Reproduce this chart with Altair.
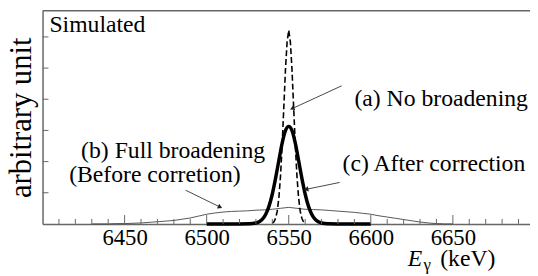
import altair as alt
import pandas as pd

# ---------------- data ----------------
# (b) Full broadening (before correction) - thin line
bg_E = [6430, 6435, 6440, 6445, 6450, 6455, 6460, 6465, 6470, 6475, 6480, 6485,
        6490, 6495, 6500, 6505, 6510, 6515, 6520, 6525, 6530, 6535, 6540, 6545,
        6550, 6555, 6560, 6565, 6570, 6575, 6580, 6585, 6590, 6595, 6600, 6605,
        6610, 6615, 6620, 6625, 6630, 6635, 6640, 6645, 6650]
bg_v = [0.0, 0.0, 0.0, 0.01, 0.01, 0.02, 0.03, 0.05, 0.07, 0.09, 0.11, 0.15,
        0.19, 0.25, 0.31, 0.35, 0.38, 0.40, 0.41, 0.42, 0.44, 0.45, 0.47, 0.50,
        0.53, 0.50, 0.47, 0.46, 0.45, 0.43, 0.41, 0.39, 0.37, 0.34, 0.31, 0.26,
        0.22, 0.18, 0.14, 0.10, 0.06, 0.03, 0.01, 0.0, 0.0]

# (a) No broadening - dashed
nb_E = [6540, 6541, 6542, 6543, 6544, 6545, 6546, 6547, 6548, 6549, 6550,
        6551, 6552, 6553, 6554, 6555, 6556, 6557, 6558, 6559, 6560]
nb_v = [0.02, 0.07, 0.18, 0.41, 0.84, 1.54, 2.54, 3.74, 4.94, 5.84, 6.22,
        5.84, 4.94, 3.74, 2.54, 1.54, 0.84, 0.41, 0.18, 0.07, 0.02]

# (c) After correction - thick line
ac_E = [6500, 6510, 6520, 6526, 6528, 6530, 6532, 6534, 6536, 6538, 6540,
        6542, 6544, 6546, 6548, 6550, 6552, 6554, 6556, 6558, 6560, 6562,
        6564, 6566, 6568, 6570, 6574, 6580, 6590, 6600]
ac_v = [0.0, 0.0, 0.0, 0.005, 0.01, 0.03, 0.07, 0.15, 0.31, 0.57, 0.96,
        1.47, 2.04, 2.59, 2.99, 3.13, 2.99, 2.59, 2.04, 1.47, 0.96, 0.57,
        0.31, 0.15, 0.07, 0.03, 0.005, 0.0, 0.0, 0.0]

x_major = [6450, 6500, 6550, 6600, 6650]
x_minor = [6410, 6420, 6430, 6440, 6460, 6470, 6480, 6490, 6510, 6520, 6530,
           6540, 6560, 6570, 6580, 6590, 6610, 6620, 6630, 6640, 6660, 6670,
           6680, 6690]
y_ticks = [1, 2, 3, 4, 5, 6]

notes_text = ["Simulated", "(a) No broadening", "(b) Full broadening",
              "(Before corretion)", "(c) After correction"]
notes_E = [6404.2, 6590, 6423.5, 6416.2, 6582.8]
notes_v = [6.17, 3.77, 2.12, 1.36, 1.71]

arrow_E1 = [6582.2, 6487.2, 6581.0]
arrow_v1 = [4.43, 1.08, 1.33]
arrow_E2 = [6552.1, 6508.2, 6560.6]
arrow_v2 = [3.70, 0.54, 1.11]
arrow_angle = [245, 116, 258]

# ---------------- chart ----------------
FONT = "Liberation Serif"
GRAY = "#666666"
W, H = 494, 216

xscale = alt.Scale(domain=[6400, 6697], nice=False, zero=False)
yscale = alt.Scale(domain=[0, 6.84], nice=False, zero=True)

xaxis = alt.Axis(values=x_major, ticks=False, grid=False, title=None,
                 labelFont=FONT, labelFontSize=23, labelColor="black",
                 labelPadding=3, domainColor=GRAY, domainWidth=1.5,
                 labelFlush=False, format="d")
yaxis = alt.Axis(labels=False, ticks=False, grid=False, title="arbitrary unit",
                 titleFont=FONT, titleFontSize=31, titleFontWeight="normal",
                 titleColor="black", titlePadding=5, domainColor=GRAY,
                 domainWidth=1.5)

X = alt.X("E:Q", scale=xscale, axis=xaxis)
Y = alt.Y("v:Q", scale=yscale, axis=yaxis)

bg_df = pd.DataFrame({"E": bg_E, "v": bg_v})
nb_df = pd.DataFrame({"E": nb_E, "v": nb_v})
ac_df = pd.DataFrame({"E": ac_E, "v": ac_v})

bg_line = alt.Chart(bg_df).mark_line(color="#444444", strokeWidth=0.9).encode(x=X, y=Y)
nb_line = alt.Chart(nb_df).mark_line(color="black", strokeWidth=1.6,
                                     strokeDash=[6, 3]).encode(x=X, y=Y)
ac_line = alt.Chart(ac_df).mark_line(color="black", strokeWidth=3.5,
                                     interpolate="monotone").encode(x=X, y=Y)

maj_df = pd.DataFrame({"E": x_major})
min_df = pd.DataFrame({"E": x_minor})
maj_ticks = alt.Chart(maj_df).mark_rule(color=GRAY, strokeWidth=1).encode(
    x=X, y=alt.value(H), y2=alt.value(H - 9))
min_ticks = alt.Chart(min_df).mark_rule(color=GRAY, strokeWidth=1).encode(
    x=X, y=alt.value(H), y2=alt.value(H - 5))
yt_df = pd.DataFrame({"v": y_ticks})
y_tick_rules = alt.Chart(yt_df).mark_rule(color=GRAY, strokeWidth=1).encode(
    y=Y, x=alt.value(0), x2=alt.value(6))

top_frame = alt.Chart(pd.DataFrame({"v": [6.84]})).mark_rule(
    color=GRAY, strokeWidth=1.5).encode(y=Y, x=alt.value(0), x2=alt.value(W))

notes_df = pd.DataFrame({"E": notes_E, "v": notes_v, "t": notes_text})
notes = alt.Chart(notes_df).mark_text(font=FONT, fontSize=24, align="left",
                                      baseline="alphabetic", color="black").encode(
    x=X, y=Y, text="t:N")

arr_df = pd.DataFrame({"E": arrow_E1, "v": arrow_v1, "E2": arrow_E2,
                       "v2": arrow_v2, "a": arrow_angle})
arr_lines = alt.Chart(arr_df).mark_rule(color="#333333", strokeWidth=0.9).encode(
    x=X, y=Y, x2="E2:Q", y2="v2:Q")
arr_heads = alt.Chart(arr_df).mark_point(shape="triangle-up", filled=True,
                                         color="#222222", size=28, opacity=1).encode(
    x=alt.X("E2:Q", scale=xscale, axis=xaxis),
    y=alt.Y("v2:Q", scale=yscale, axis=yaxis),
    angle=alt.Angle("a:Q", scale=None))

t_E = alt.Chart(pd.DataFrame({"t": ["E"]})).mark_text(
    font=FONT, fontSize=24, fontStyle="italic", align="left",
    baseline="alphabetic", color="black").encode(
    text="t:N", x=alt.value(370), y=alt.value(259))
t_g = alt.Chart(pd.DataFrame({"t": ["γ"]})).mark_text(
    font=FONT, fontSize=17, align="left", baseline="alphabetic",
    color="black").encode(text="t:N", x=alt.value(386), y=alt.value(263))
t_k = alt.Chart(pd.DataFrame({"t": ["(keV)"]})).mark_text(
    font=FONT, fontSize=24, align="left", baseline="alphabetic",
    color="black").encode(text="t:N", x=alt.value(403), y=alt.value(259))

chart = alt.layer(
    bg_line, nb_line, ac_line, maj_ticks, min_ticks, y_tick_rules, top_frame,
    arr_lines, arr_heads, notes, t_E, t_g, t_k
).properties(
    width=W, height=H,
    autosize=alt.AutoSizeParams(type="none"),
    padding={"left": 35, "top": 1, "right": 0, "bottom": 51},
).configure_view(stroke=None)

chart.save("out.html", embed_options={"renderer": "svg", "actions": False})
